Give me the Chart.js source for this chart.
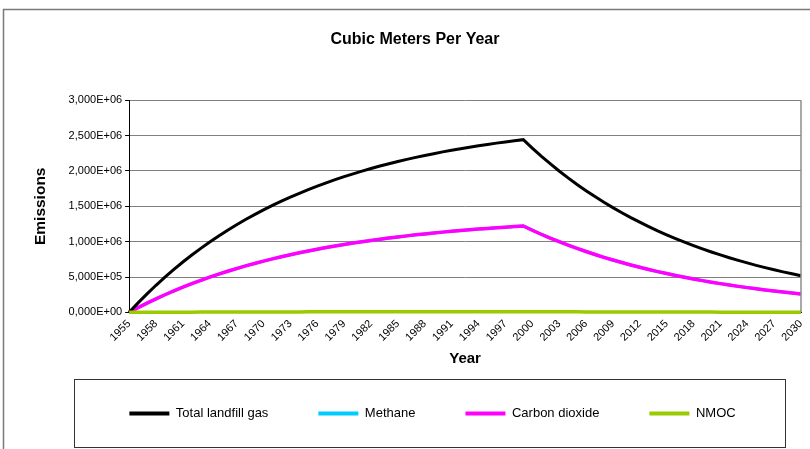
<!DOCTYPE html>
<html>
<head>
<meta charset="utf-8">
<title>Cubic Meters Per Year</title>
<script src="https://cdn.jsdelivr.net/npm/chart.js@4.4.1/dist/chart.umd.min.js"></script>
<style>
  html, body { margin: 0; padding: 0; background: #fff; }
  #wrap { width: 810px; height: 449px; }
</style>
</head>
<body>
<div id="wrap"><canvas id="chart" width="810" height="449"></canvas></div>
<script>
// Years 1955 - 2030
const years = Array.from({ length: 76 }, (_, i) => String(1955 + i));

// Values (cubic meters per year)
const totalGas = [
  0, 134000, 261000, 383000, 498000, 607000, 712000, 811000, 905000, 995000,
  1081000, 1162000, 1239000, 1313000, 1382000, 1449000, 1512000, 1572000, 1630000, 1684000,
  1736000, 1785000, 1832000, 1877000, 1919000, 1959000, 1998000, 2034000, 2069000, 2102000,
  2133000, 2163000, 2192000, 2219000, 2244000, 2269000, 2292000, 2314000, 2335000, 2355000,
  2374000, 2393000, 2410000, 2426000, 2442000,
  2323000, 2209000, 2102000, 1999000, 1902000, 1809000, 1721000, 1637000, 1557000, 1481000,
  1409000, 1340000, 1275000, 1213000, 1153000, 1097000, 1044000, 993000, 944000, 898000,
  854000, 813000, 773000, 735000, 700000, 665000, 633000, 602000, 573000, 545000, 518000
];

const methane = [
  0, 67000, 130500, 191500, 249000, 303500, 356000, 405500, 452500, 497500,
  540500, 581000, 619500, 656500, 691000, 724500, 756000, 786000, 815000, 842000,
  868000, 892500, 916000, 938500, 959500, 979500, 999000, 1017000, 1034500, 1051000,
  1066500, 1081500, 1096000, 1109500, 1122000, 1134500, 1146000, 1157000, 1167500, 1177500,
  1187000, 1196500, 1205000, 1213000, 1221000,
  1161500, 1104500, 1051000, 999500, 951000, 904500, 860500, 818500, 778500, 740500,
  704500, 670000, 637500, 606500, 576500, 548500, 522000, 496500, 472000, 449000,
  427000, 406500, 386500, 367500, 350000, 332500, 316500, 301000, 286500, 272500, 259000
];

const carbonDioxide = [
  0, 67000, 130500, 191500, 249000, 303500, 356000, 405500, 452500, 497500,
  540500, 581000, 619500, 656500, 691000, 724500, 756000, 786000, 815000, 842000,
  868000, 892500, 916000, 938500, 959500, 979500, 999000, 1017000, 1034500, 1051000,
  1066500, 1081500, 1096000, 1109500, 1122000, 1134500, 1146000, 1157000, 1167500, 1177500,
  1187000, 1196500, 1205000, 1213000, 1221000,
  1161500, 1104500, 1051000, 999500, 951000, 904500, 860500, 818500, 778500, 740500,
  704500, 670000, 637500, 606500, 576500, 548500, 522000, 496500, 472000, 449000,
  427000, 406500, 386500, 367500, 350000, 332500, 316500, 301000, 286500, 272500, 259000
];

const nmoc = [
  0, 540, 1040, 1530, 1990, 2430, 2850, 3240, 3620, 3980,
  4320, 4650, 4960, 5250, 5530, 5800, 6050, 6290, 6520, 6740,
  6940, 7140, 7330, 7510, 7680, 7840, 7990, 8140, 8280, 8410,
  8530, 8650, 8770, 8880, 8980, 9080, 9170, 9260, 9340, 9420,
  9500, 9570, 9640, 9700, 9770,
  9290, 8840, 8410, 8000, 7610, 7240, 6880, 6550, 6230, 5920,
  5640, 5360, 5100, 4850, 4610, 4390, 4180, 3970, 3780, 3590,
  3420, 3250, 3090, 2940, 2800, 2660, 2530, 2410, 2290, 2180, 2070
];

const FONT = "'Liberation Sans', Arial, sans-serif";

// 3,000E+06 style labels
function sciLabel(v) {
  if (v === 0) return '0,000E+00';
  const e = Math.floor(Math.log10(v));
  const m = v / Math.pow(10, e);
  return m.toFixed(3).replace('.', ',') + 'E+' + String(e).padStart(2, '0');
}

// frame, plot border and legend box
const framePlugin = {
  id: 'frame',
  beforeDraw(chart) {
    const ctx = chart.ctx;
    ctx.save();
    ctx.fillStyle = '#fff';
    ctx.fillRect(0, 0, chart.width, chart.height);
    ctx.strokeStyle = '#7a7a7a';
    ctx.lineWidth = 1.5;
    ctx.strokeRect(3.5, 9.5, 820, 460);
    ctx.restore();
  },
  afterLayout(chart) {
    // put the legend row and title where the reference has them
    const lg = chart.legend;
    lg.left = 62; lg.right = 803;
    const h = lg.bottom - lg.top;
    lg.top = 357; lg.bottom = 357 + h;
    chart.titleBlock.left = 20;
    chart.titleBlock.right = 810;
  },
  afterDatasetsDraw(chart) {
    const { ctx, chartArea } = chart;
    ctx.save();
    ctx.strokeStyle = '#8c8c8c';
    ctx.lineWidth = 1.5;
    ctx.beginPath();
    ctx.moveTo(chartArea.right, chartArea.top);
    ctx.lineTo(chartArea.right, chartArea.bottom);
    ctx.stroke();
    ctx.restore();
  },
  afterDraw(chart) {
    const ctx = chart.ctx;
    ctx.save();
    ctx.strokeStyle = '#333';
    ctx.lineWidth = 1;
    ctx.strokeRect(74.5, 379.5, 711, 68);
    ctx.restore();
  }
};

new Chart(document.getElementById('chart'), {
  type: 'line',
  data: {
    labels: years,
    datasets: [
      { label: 'Total landfill gas', data: totalGas, borderColor: '#000000', backgroundColor: '#000000', borderWidth: 3, order: 1 },
      { label: 'Methane', data: methane, borderColor: '#00ccff', backgroundColor: '#00ccff', borderWidth: 3, order: 3 },
      { label: 'Carbon dioxide', data: carbonDioxide, borderColor: '#ff00ff', backgroundColor: '#ff00ff', borderWidth: 3.5, order: 2 },
      { label: 'NMOC', data: nmoc, borderColor: '#99cc00', backgroundColor: '#99cc00', borderWidth: 3.5, order: 0 }
    ]
  },
  options: {
    responsive: false,
    animation: false,
    devicePixelRatio: 1,
    elements: { point: { radius: 0 }, line: { tension: 0, fill: false } },
    datasets: { line: { clip: false } },
    layout: { padding: { top: 0, left: 6, right: 9, bottom: 0 } },
    plugins: {
      title: {
        display: true,
        text: 'Cubic Meters Per Year',
        color: '#000',
        font: { family: FONT, size: 16, weight: 'bold' },
        padding: { top: 30, bottom: 51 }
      },
      legend: {
        position: 'bottom',
        labels: {
          color: '#000',
          font: { family: FONT, size: 13 },
          boxWidth: 40,
          boxHeight: 4,
          padding: 50,
          sort: (a, b) => a.datasetIndex - b.datasetIndex,
          generateLabels(chart) {
            const items = Chart.defaults.plugins.legend.labels.generateLabels(chart);
            items.forEach(it => { it.lineWidth = 0; });
            return items;
          }
        }
      },
      tooltip: { enabled: false }
    },
    scales: {
      x: {
        grid: { display: false },
        border: { color: '#000', width: 1 },
        ticks: {
          autoSkip: false,
          maxRotation: 45,
          minRotation: 45,
          padding: -3,
          color: '#000',
          font: { family: FONT, size: 11 },
          callback: function (v, i) { return i % 3 === 0 ? this.getLabelForValue(v) : ''; }
        },
        title: {
          display: true,
          text: 'Year',
          color: '#000',
          font: { family: FONT, size: 15, weight: 'bold' },
          padding: { top: 9, bottom: 8 }
        }
      },
      y: {
        min: 0,
        max: 3000000,
        grid: { color: '#808080', lineWidth: 1, tickColor: '#000', tickLength: 4 },
        border: { color: '#000', width: 1 },
        ticks: {
          stepSize: 500000,
          padding: 3,
          color: '#000',
          font: { family: FONT, size: 11 },
          callback: v => sciLabel(v)
        },
        title: {
          display: true,
          text: 'Emissions',
          color: '#000',
          font: { family: FONT, size: 15.5, weight: 'bold' },
          padding: { top: 25, bottom: 16 }
        }
      }
    }
  },
  plugins: [framePlugin]
});
</script>
</body>
</html>
